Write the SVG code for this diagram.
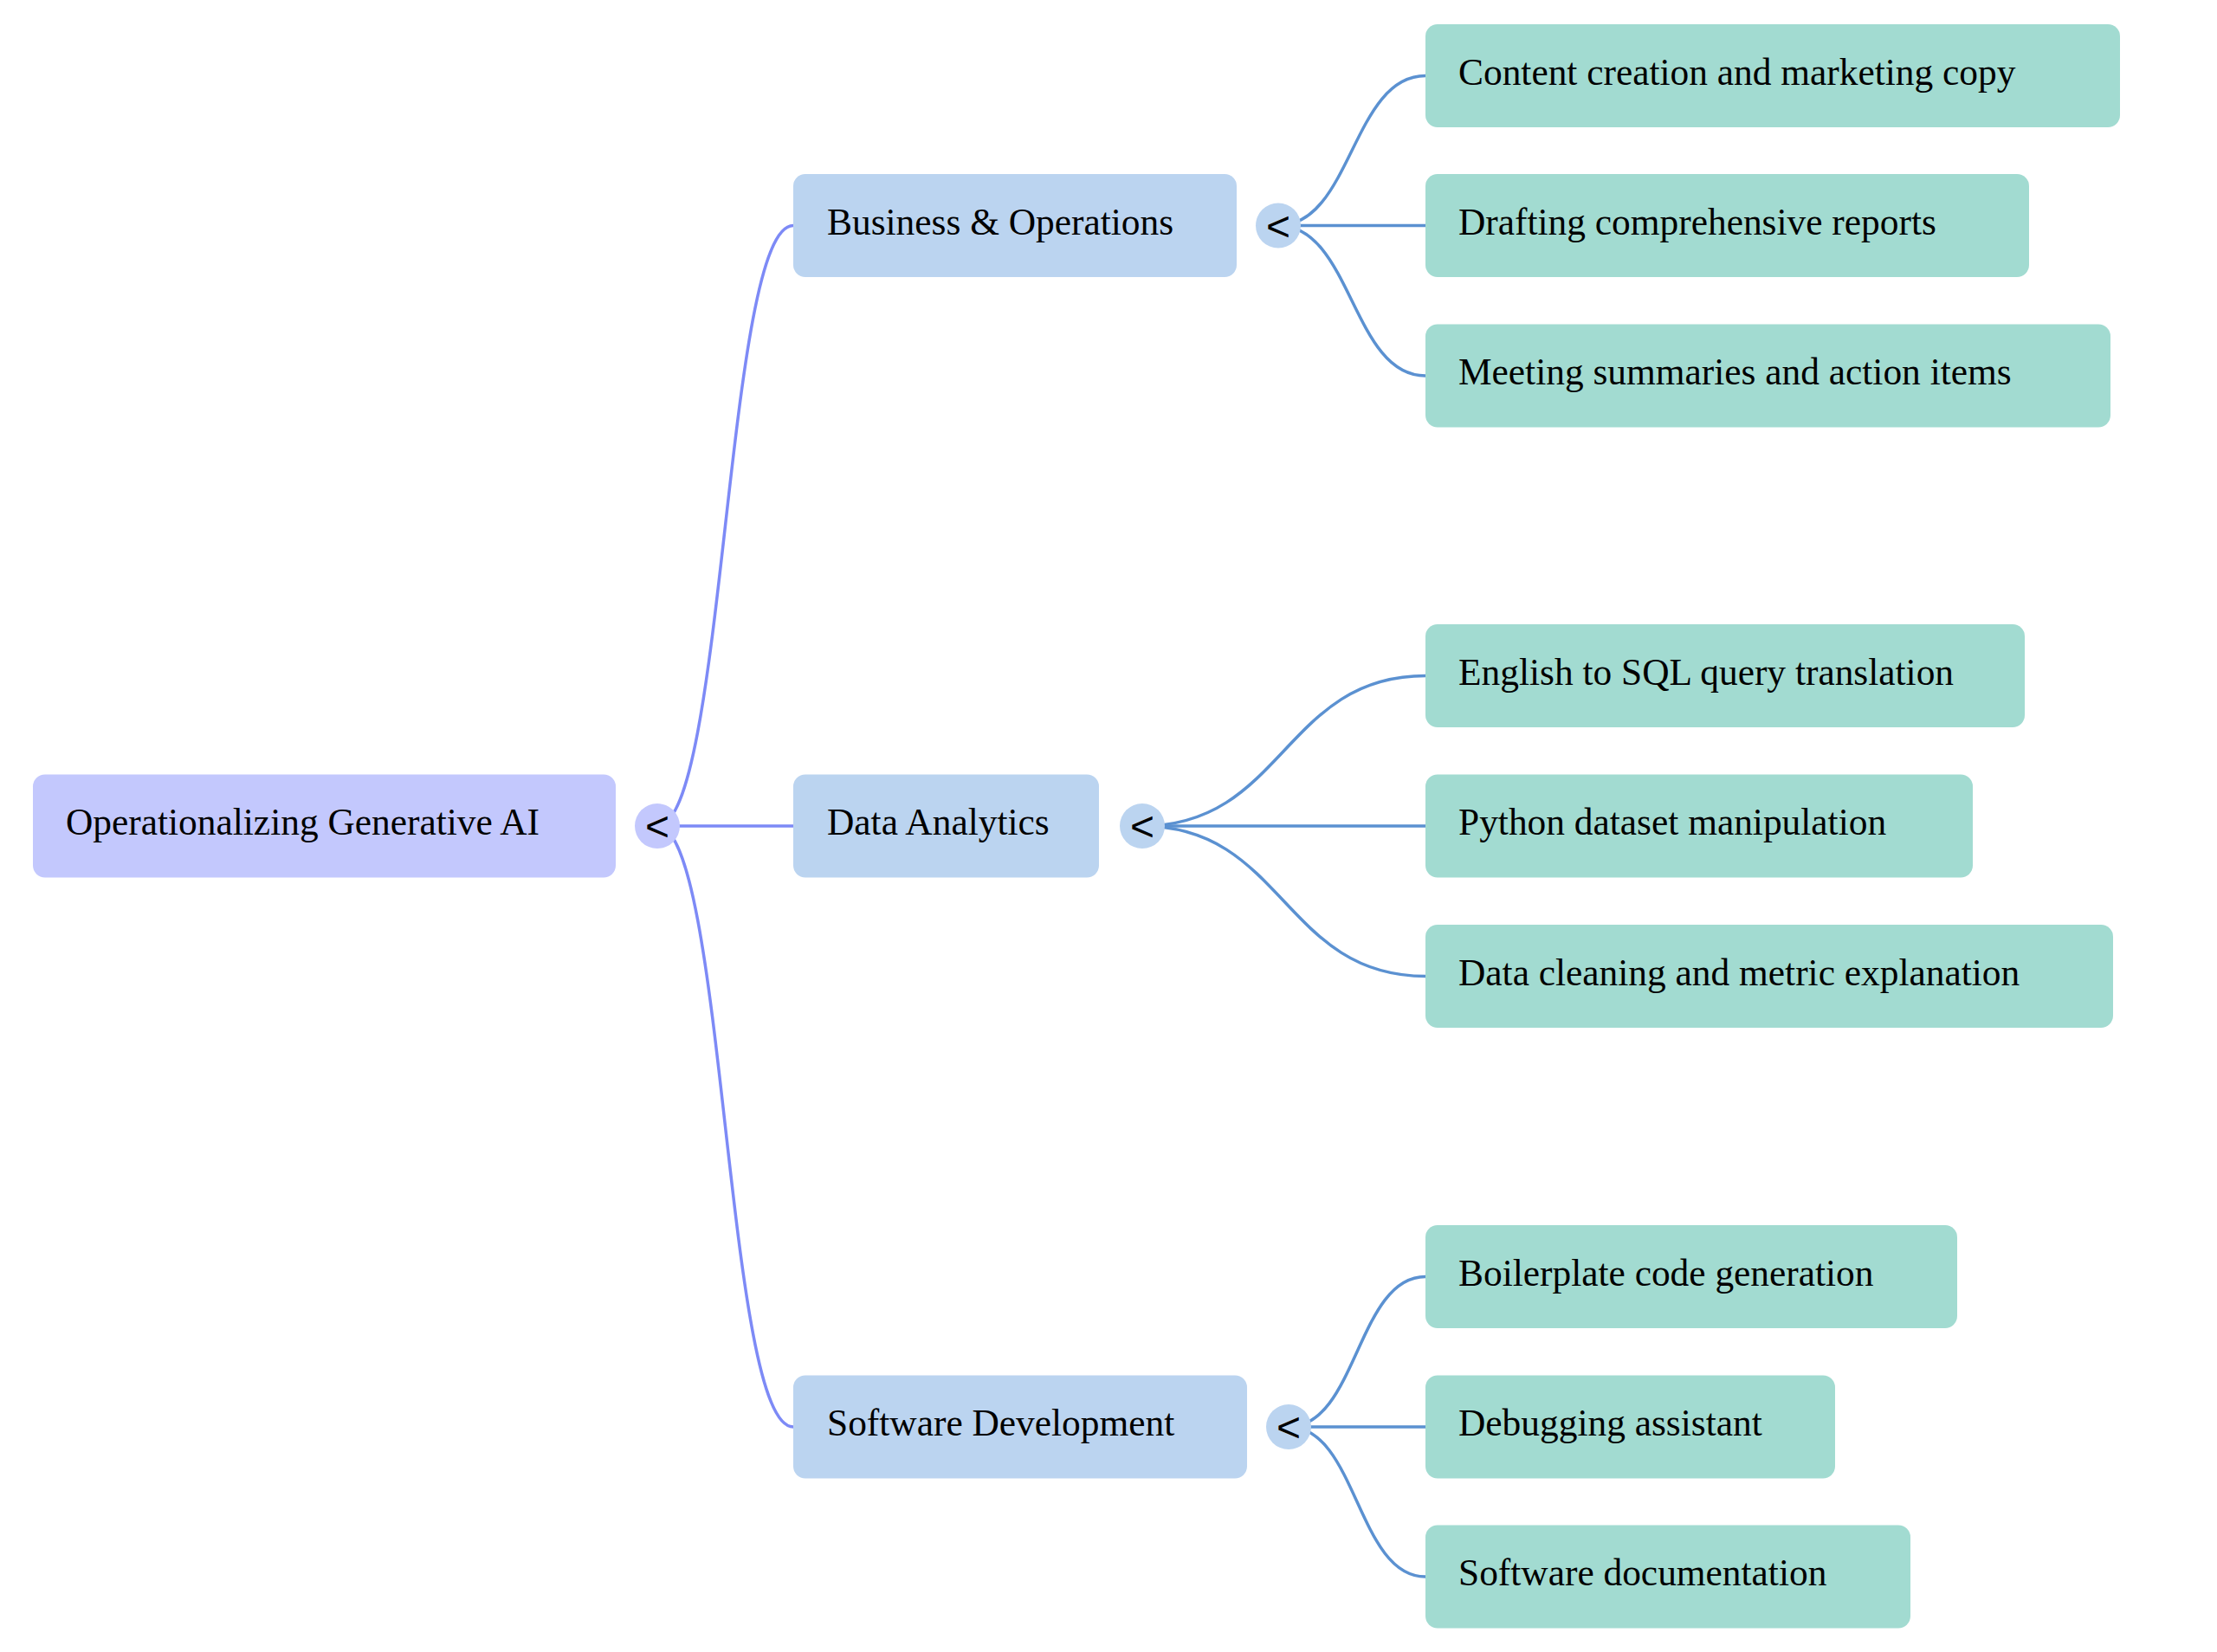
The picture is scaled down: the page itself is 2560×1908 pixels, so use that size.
<svg xmlns="http://www.w3.org/2000/svg" width="2560" height="1908" viewBox="0 0 2560 1908">
<style>
.lk{fill:none;stroke-width:3.5;stroke-linecap:round}
.l0{stroke:#7d8af6}
.l1{stroke:#5b91d1}
.box{stroke:none}
.root{fill:#c3c8fd}
.mid{fill:#bbd4f0}
.leaf{fill:#a2dbd1}
.lbl{font-family:"Liberation Serif","Times New Roman",serif;font-size:43.4px;fill:#000}
.tg{font-family:"Liberation Sans",Arial,sans-serif;font-size:48px;fill:#000;text-anchor:middle}
</style>
<rect width="2560" height="1908" fill="#ffffff"/>
<g id="connectors">
<path class="lk l0" d="M759,954 C837.5,954 837.5,260.5 916,260.5"/>
<path class="lk l0" d="M759,954 L916,954"/>
<path class="lk l0" d="M759,954 C837.5,954 837.5,1648 916,1648"/>
<path class="lk l1" d="M1476,260.5 C1561,260.5 1561,87.5 1646,87.5"/>
<path class="lk l1" d="M1476,260.5 L1646,260.5"/>
<path class="lk l1" d="M1476,260.5 C1561,260.5 1561,434 1646,434"/>
<path class="lk l1" d="M1319,954 C1482.5,954 1482.5,780.5 1646,780.5"/>
<path class="lk l1" d="M1319,954 L1646,954"/>
<path class="lk l1" d="M1319,954 C1482.5,954 1482.5,1127.5 1646,1127.5"/>
<path class="lk l1" d="M1488,1648 C1567,1648 1567,1474.5 1646,1474.5"/>
<path class="lk l1" d="M1488,1648 L1646,1648"/>
<path class="lk l1" d="M1488,1648 C1567,1648 1567,1821 1646,1821"/>
</g>
<g id="root">
<rect class="box root" x="38" y="894.5" width="673" height="119" rx="14"/>
<text class="lbl" x="76" y="964">Operationalizing Generative AI</text>
<circle class="root" cx="759" cy="954" r="26"/>
<text class="tg" x="759" y="971">&lt;</text>
</g>
<g id="business">
<rect class="box mid" x="916" y="201" width="512" height="119" rx="14"/>
<text class="lbl" x="955" y="270.5">Business &amp; Operations</text>
<circle class="mid" cx="1476" cy="260.5" r="26"/>
<text class="tg" x="1476" y="277.5">&lt;</text>
</g>
<g id="data">
<rect class="box mid" x="916" y="894.5" width="353" height="119" rx="14"/>
<text class="lbl" x="955" y="964">Data Analytics</text>
<circle class="mid" cx="1319" cy="954" r="26"/>
<text class="tg" x="1319" y="971">&lt;</text>
</g>
<g id="software">
<rect class="box mid" x="916" y="1588.5" width="524" height="119" rx="14"/>
<text class="lbl" x="955" y="1658">Software Development</text>
<circle class="mid" cx="1488" cy="1648" r="26"/>
<text class="tg" x="1488" y="1665">&lt;</text>
</g>
<g id="content">
<rect class="box leaf" x="1646" y="28" width="802" height="119" rx="14"/>
<text class="lbl" x="1684" y="97.5">Content creation and marketing copy</text>
</g>
<g id="drafting">
<rect class="box leaf" x="1646" y="201" width="697" height="119" rx="14"/>
<text class="lbl" x="1684" y="270.5">Drafting comprehensive reports</text>
</g>
<g id="meeting">
<rect class="box leaf" x="1646" y="374.5" width="791" height="119" rx="14"/>
<text class="lbl" x="1684" y="444">Meeting summaries and action items</text>
</g>
<g id="english">
<rect class="box leaf" x="1646" y="721" width="692" height="119" rx="14"/>
<text class="lbl" x="1684" y="790.5">English to SQL query translation</text>
</g>
<g id="python">
<rect class="box leaf" x="1646" y="894.5" width="632" height="119" rx="14"/>
<text class="lbl" x="1684" y="964">Python dataset manipulation</text>
</g>
<g id="cleaning">
<rect class="box leaf" x="1646" y="1068" width="794" height="119" rx="14"/>
<text class="lbl" x="1684" y="1137.5">Data cleaning and metric explanation</text>
</g>
<g id="boilerplate">
<rect class="box leaf" x="1646" y="1415" width="614" height="119" rx="14"/>
<text class="lbl" x="1684" y="1484.5">Boilerplate code generation</text>
</g>
<g id="debugging">
<rect class="box leaf" x="1646" y="1588.5" width="473" height="119" rx="14"/>
<text class="lbl" x="1684" y="1658">Debugging assistant</text>
</g>
<g id="docs">
<rect class="box leaf" x="1646" y="1761.5" width="560" height="119" rx="14"/>
<text class="lbl" x="1684" y="1831">Software documentation</text>
</g>
</svg>
